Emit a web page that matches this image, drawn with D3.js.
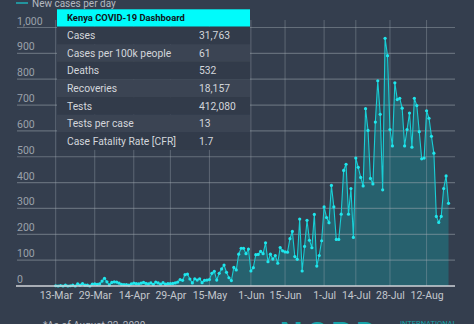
<!DOCTYPE html>
<html>
<head>
<meta charset="utf-8">
<script src="https://cdn.jsdelivr.net/npm/d3@7"></script>
<style>
  html, body { margin: 0; padding: 0; background: #343e4e; overflow: hidden; }
  svg { display: block; font-family: Roboto, "Noto Sans", sans-serif; }
</style>
</head>
<body>
<svg id="chart" width="474" height="324"></svg>
<script>
// ---- data ----
const startDate = "13-Mar-2020";
const newCases = [
  1,0,2,0,3,0,1,3,0,8,3,9,3,3,0,7,
  8,6,8,19,30,16,4,14,16,15,11,6,5,5,3,8,
  11,9,8,11,14,10,8,12,6,15,12,7,13,7,9,9,
  10,12,15,25,22,44,46,27,12,28,23,28,13,22,23,25,
  49,57,23,49,66,81,53,32,21,72,62,123,146,146,125,143,
  58,71,121,122,134,125,167,94,123,104,118,88,149,136,132,131,
  183,211,114,103,259,58,153,254,177,148,277,77,118,175,306,265,
  245,389,306,180,180,278,447,471,278,377,188,495,459,420,387,686,
  602,416,395,634,794,664,372,958,891,605,542,786,721,726,688,542,
  605,669,537,726,698,597,492,495,678,649,579,514,269,246,269,377,426,320
];
const xTickLabels = ["13-Mar","29-Mar","14-Apr","29-Apr","15-May","1-Jun","15-Jun","1-Jul","14-Jul","28-Jul","12-Aug"];
const yTicks = [0,100,200,300,400,500,600,700,800,900,1000];
const legendLabel = "New cases per day";
const tableTitle = "Kenya COVID-19 Dashboard";
const tableLabels = ["Cases","Cases per 100k people","Deaths","Recoveries","Tests","Tests per case","Case Fatality Rate [CFR]"];
const tableValues = ["31,763","61","532","18,157","412,080","13","1.7"];
const footnote = "*As of August 22, 2020";

// ---- setup ----
const parse = d3.timeParse("%d-%b-%Y");
const t0 = parse(startDate);
const DAY = 864e5;
const data = newCases.map((v, i) => ({ date: d3.timeDay.offset(t0, i), v }));
const tickDates = xTickLabels.map(s => parse(s + "-2020"));

const svg = d3.select("#chart");
const plotLeft = 17, plotRight = 455, plotTop = 20, plotBottom = 286;

const x = d3.scaleTime()
  .domain([new Date(+t0 - 15.86 * DAY), new Date(+t0 + 163.65 * DAY)])
  .range([plotLeft, plotRight]);
const y = d3.scaleLinear().domain([0, 1000]).range([plotBottom, 27.5]);

// area
const area = d3.area().x(d => x(d.date)).y0(y(0)).y1(d => y(d.v));
svg.append("path").datum(data).attr("d", area)
  .attr("fill", "rgb(20,150,160)").attr("fill-opacity", 0.4);

// grid - horizontal
svg.append("g").selectAll("line").data(yTicks.filter(d => d > 0)).join("line")
  .attr("x1", plotLeft).attr("x2", plotRight)
  .attr("y1", d => y(d)).attr("y2", d => y(d))
  .attr("stroke", "rgba(160,168,178,0.45)").attr("stroke-width", 1.2);

// grid - vertical
svg.append("g").selectAll("line").data(tickDates).join("line")
  .attr("x1", d => x(d)).attr("x2", d => x(d))
  .attr("y1", plotTop).attr("y2", plotBottom)
  .attr("stroke", "rgba(160,168,178,0.38)").attr("stroke-width", 1);

// line
const line = d3.line().x(d => x(d.date)).y(d => y(d.v));
svg.append("path").datum(data).attr("d", line)
  .attr("fill", "none").attr("stroke", "#19cdd4").attr("stroke-width", 1.1);

// points
svg.append("g").selectAll("circle").data(data).join("circle")
  .attr("cx", d => x(d.date)).attr("cy", d => y(d.v)).attr("r", 1.6)
  .attr("fill", "#1fe6ec");

// baseline
svg.append("line").attr("x1", plotLeft - 1).attr("x2", plotRight)
  .attr("y1", y(0)).attr("y2", y(0))
  .attr("stroke", "#cfd3d8").attr("stroke-width", 1.5);

// y labels
svg.append("g").selectAll("text").data(yTicks).join("text")
  .attr("x", plotLeft).attr("y", d => y(d) - 3)
  .attr("fill", "#9ba1aa").attr("font-size", "10.5px")
  .text(d => d3.format(",")(d));

// x axis labels
const xAxis = d3.axisBottom(x).tickValues(tickDates)
  .tickFormat((d, i) => xTickLabels[i]).tickSize(0).tickPadding(6);
const gx = svg.append("g").attr("transform", `translate(0,${plotBottom})`).call(xAxis);
gx.select(".domain").remove();
gx.selectAll("text").attr("fill", "#c3c7cd").attr("font-size", "10.5px")
  .attr("font-family", "Roboto, 'Noto Sans', sans-serif");

// legend
svg.append("line").attr("x1", 16).attr("x2", 28).attr("y1", 3).attr("y2", 3)
  .attr("stroke", "#19cdd4").attr("stroke-width", 1.2);
svg.append("text").attr("x", 32).attr("y", 7).attr("fill", "#b4b9c0")
  .attr("font-size", "10px").text(legendLabel);

// dashboard table
const tblX = 57, tblW = 193, tblY = 9.3, headH = 17.4, rowH = 17.6;
const tbl = svg.append("g");
tbl.append("rect").attr("x", tblX).attr("y", tblY).attr("width", tblW).attr("height", headH)
  .attr("fill", "#00fbfb");
tbl.append("text").attr("x", 67).attr("y", tblY + headH / 2 + 3.3)
  .attr("font-size", "9.4px").attr("font-weight", "bold").attr("fill", "#101418")
  .text(tableTitle);
tableLabels.forEach((lab, i) => {
  const ry = tblY + headH + i * rowH;
  tbl.append("rect").attr("x", tblX).attr("y", ry).attr("width", tblW).attr("height", rowH)
    .attr("fill", i % 2 === 0 ? "#323b4a" : "#3b4453");
  tbl.append("text").attr("x", 67).attr("y", ry + rowH / 2 + 3.7)
    .attr("font-size", "10.3px").attr("fill", "#d3d6db").text(lab);
  tbl.append("text").attr("x", 199).attr("y", ry + rowH / 2 + 3.7)
    .attr("font-size", "10.3px").attr("fill", "#d3d6db").text(tableValues[i]);
});

// footer
svg.append("text").attr("x", 43).attr("y", 329).attr("fill", "#b4b9c0")
  .attr("font-size", "10px").text(footnote);
svg.append("text").attr("x", 280).attr("y", 344).attr("fill", "#16a3a9")
  .attr("font-size", "32px").attr("font-weight", "bold").attr("letter-spacing", "4px").text("NCPD");
svg.append("text").attr("x", 400).attr("y", 326).attr("fill", "#16a3a9")
  .attr("font-size", "7.5px").text("INTERNATIONAL");
</script>
</body>
</html>
